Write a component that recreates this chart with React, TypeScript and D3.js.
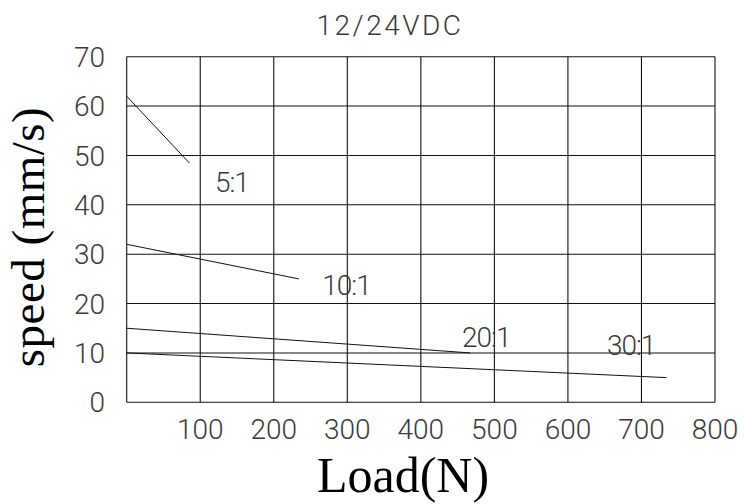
import React from 'react';
import * as d3 from 'd3';

// speed vs load curves, one per gear ratio
const ratios = ['5:1', '10:1', '20:1', '30:1'];
const loads = [
  [0, 85],
  [0, 234],
  [0, 467],
  [0, 734],
];
const speeds = [
  [62, 48.5],
  [32, 25],
  [15, 10],
  [10, 5],
];
// where each ratio label sits (data units, left/baseline)
const labelLoad = [120, 266, 456, 653];
const labelSpeed = [42.5, 21.8, 11.2, 9.6];

const xTicks = [0, 100, 200, 300, 400, 500, 600, 700, 800];
const yTicks = [0, 10, 20, 30, 40, 50, 60, 70];

const W = 747;
const H = 504;
const cadFont = 'Roboto, "DejaVu Sans", sans-serif';
const serif = '"Liberation Serif", "DejaVu Serif", serif';
const cadWeight = 300;
const cadColor = '#3a3a3a';

export default function App() {
  const x = d3.scaleLinear().domain([0, 800]).range([126.7, 715]);
  const y = d3.scaleLinear().domain([0, 70]).range([402.3, 56.7]);

  const line = d3
    .line<[number, number]>()
    .x(d => x(d[0]))
    .y(d => y(d[1]));

  return (
    <svg
      width={W}
      height={H}
      style={{ position: 'absolute', left: 0, top: 0, background: '#fff' }}
    >
      {/* grid */}
      {xTicks.map(t => (
        <line key={'gx' + t} x1={x(t)} x2={x(t)} y1={y(0)} y2={y(70)} stroke="#111" strokeWidth={1.1} />
      ))}
      {yTicks.map(t => (
        <line key={'gy' + t} x1={x(0)} x2={x(800)} y1={y(t)} y2={y(t)} stroke="#111" strokeWidth={1.1} />
      ))}

      {/* curves */}
      {ratios.map((r, i) => (
        <path
          key={r}
          d={line(loads[i].map((l, j) => [l, speeds[i][j]] as [number, number])) || ''}
          fill="none"
          stroke="#111"
          strokeWidth={1}
        />
      ))}
      {ratios.map((r, i) => (
        <text
          key={'lb' + r}
          x={x(labelLoad[i])}
          y={y(labelSpeed[i])}
          fontFamily={cadFont}
          fontWeight={cadWeight}
          fontSize={28}
          letterSpacing={-1}
          fill={cadColor}
        >
          {r}
        </text>
      ))}

      {/* y tick labels */}
      {yTicks.map(t => (
        <text
          key={'yt' + t}
          x={105}
          y={y(t)}
          dy="0.36em"
          textAnchor="end"
          fontFamily={cadFont}
          fontWeight={cadWeight}
          fontSize={28}
          fill={cadColor}
        >
          {t}
        </text>
      ))}
      {/* x tick labels */}
      {xTicks.filter(t => t > 0).map(t => (
        <text
          key={'xt' + t}
          x={x(t)}
          y={439}
          textAnchor="middle"
          fontFamily={cadFont}
          fontWeight={cadWeight}
          fontSize={28}
          fill={cadColor}
        >
          {t}
        </text>
      ))}

      {/* titles */}
      <text
        x={390}
        y={35}
        textAnchor="middle"
        fontFamily={cadFont}
        fontWeight={cadWeight}
        fontSize={28}
        letterSpacing={2.5}
        fill={cadColor}
      >
        12/24VDC
      </text>
      <text
        transform="translate(44,237) rotate(-90)"
        textAnchor="middle"
        fontFamily={serif}
        fontSize={47}
        letterSpacing={0.5}
        fill="#000"
      >
        speed (mm/s)
      </text>
      <text
        x={403}
        y={492}
        textAnchor="middle"
        fontFamily={serif}
        fontSize={50}
        fill="#000"
      >
        Load(N)
      </text>
    </svg>
  );
}
